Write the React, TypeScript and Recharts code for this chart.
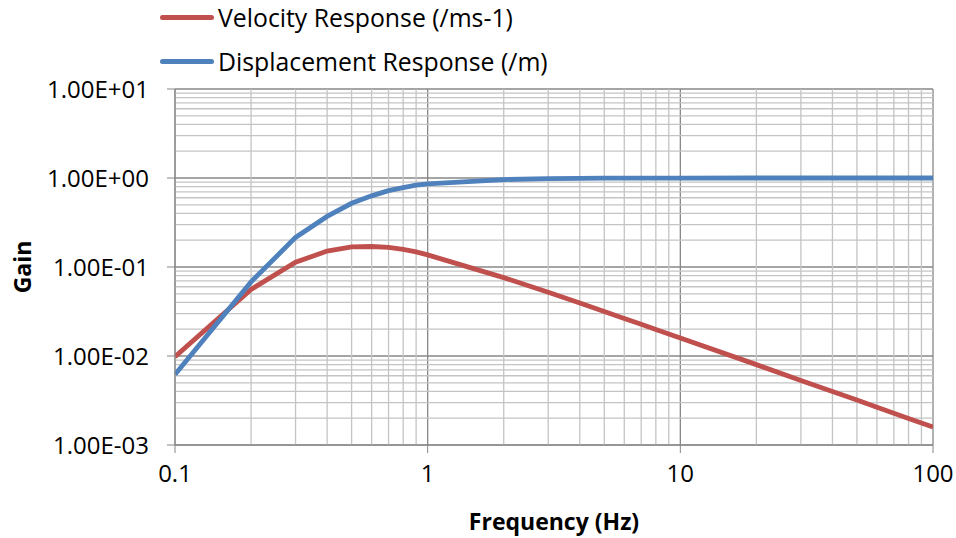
import { CartesianGrid, Label, Line, LineChart, ReferenceLine, XAxis, YAxis } from "recharts";

const FREQUENCIES = [
  0.1, 0.2, 0.3, 0.4, 0.5, 0.6, 0.7, 0.8, 0.9, 1, 2, 3, 4, 5, 6, 7, 8, 9, 10, 20, 30, 40, 50, 60, 70, 80, 90, 100,
];
const VELOCITY_GAIN = [
  0.0098, 0.056, 0.113, 0.151, 0.168, 0.17, 0.166, 0.158, 0.148, 0.137, 0.076, 0.052, 0.0395, 0.0317, 0.0264,
  0.0227, 0.0199, 0.0177, 0.0159, 0.008, 0.0053, 0.004, 0.0032, 0.00265, 0.00227, 0.00199, 0.00177, 0.00159,
];
const DISPLACEMENT_GAIN = [
  0.0062, 0.068, 0.215, 0.37, 0.52, 0.63, 0.72, 0.78, 0.83, 0.86, 0.96, 0.985, 0.992, 0.995, 0.997, 0.998, 0.998,
  0.999, 0.999, 1, 1, 1, 1, 1, 1, 1, 1, 1,
];

const X_TICKS = [0.1, 1, 10, 100];
const Y_TICKS = [0.001, 0.01, 0.1, 1, 10];
const X_MINOR = [0.2, 0.3, 0.4, 0.5, 0.6, 0.7, 0.8, 0.9, 2, 3, 4, 5, 6, 7, 8, 9, 20, 30, 40, 50, 60, 70, 80, 90];
const Y_MINOR = [
  0.002, 0.003, 0.004, 0.005, 0.006, 0.007, 0.008, 0.009, 0.02, 0.03, 0.04, 0.05, 0.06, 0.07, 0.08, 0.09, 0.2, 0.3,
  0.4, 0.5, 0.6, 0.7, 0.8, 0.9, 2, 3, 4, 5, 6, 7, 8, 9,
];

const SERIES = [
  { key: "vel", name: "Velocity Response (/ms-1)", color: "#c0504d" },
  { key: "disp", name: "Displacement Response (/m)", color: "#4f81bd" },
];

const rows = FREQUENCIES.map((f, i) => ({ f, vel: VELOCITY_GAIN[i], disp: DISPLACEMENT_GAIN[i] }));

const FONT = "'Open Sans', sans-serif";
const FS = 24;
const MAJOR = "#878787";
const MINOR = "#c4c4c4";

function sci(v: number): string {
  const exp = Math.round(Math.log10(v));
  const sign = exp < 0 ? "-" : "+";
  return `1.00E${sign}${String(Math.abs(exp)).padStart(2, "0")}`;
}

export default function App() {
  return (
    <div style={{ position: "absolute", left: 0, top: 0, width: 956, height: 538, background: "#fff" }}>
      <div style={{ position: "absolute", left: 160, top: -5, fontFamily: FONT, fontSize: 24.8, color: "#000", zIndex: 2 }}>
        {SERIES.map((s) => (
          <div key={s.key} style={{ display: "flex", alignItems: "center", height: 44, whiteSpace: "nowrap" }}>
            <span style={{ width: 54, height: 5, borderRadius: 3, background: s.color, marginRight: 4 }} />
            {s.name}
          </div>
        ))}
      </div>
      <LineChart width={956} height={538} data={rows} margin={{ top: 89, right: 23, bottom: 0, left: 10 }}>
        <CartesianGrid stroke={MAJOR} strokeWidth={1.3} />
        {X_MINOR.map((x) => (
          <ReferenceLine key={`x${x}`} x={x} stroke={MINOR} strokeWidth={1.3} />
        ))}
        {Y_MINOR.map((y) => (
          <ReferenceLine key={`y${y}`} y={y} stroke={MINOR} strokeWidth={1.3} />
        ))}
        <XAxis
          dataKey="f"
          type="number"
          scale="log"
          domain={[0.1, 100]}
          ticks={X_TICKS}
          allowDataOverflow
          height={93}
          stroke={MAJOR}
          tickSize={8}
          tickMargin={12}
          tick={{ fill: "#000", fontSize: FS, fontFamily: FONT }}
        >
          <Label
            content={({ viewBox }: any) => (
              <text
                x={viewBox.x + viewBox.width / 2}
                y={viewBox.y + 85}
                textAnchor="middle"
                fontFamily={FONT}
                fontSize={FS - 1}
                fontWeight="bold"
                fill="#000"
              >
                Frequency (Hz)
              </text>
            )}
          />
        </XAxis>
        <YAxis
          type="number"
          scale="log"
          domain={[0.001, 10]}
          ticks={Y_TICKS}
          allowDataOverflow
          width={165}
          stroke={MAJOR}
          tickSize={8}
          tickMargin={18}
          tickFormatter={sci}
          tick={{ fill: "#000", fontSize: FS, fontFamily: FONT }}
        >
          <Label
            content={({ viewBox }: any) => {
              const cx = viewBox.x + 12;
              const cy = viewBox.y + viewBox.height / 2;
              return (
                <text
                  x={cx}
                  y={cy}
                  transform={`rotate(-90 ${cx} ${cy})`}
                  textAnchor="middle"
                  dominantBaseline="central"
                  fontFamily={FONT}
                  fontSize={FS - 1}
                  fontWeight="bold"
                  fill="#000"
                >
                  Gain
                </text>
              );
            }}
          />
        </YAxis>
        {SERIES.map((s) => (
          <Line
            key={s.key}
            name={s.name}
            dataKey={s.key}
            stroke={s.color}
            strokeWidth={4.8}
            dot={false}
            isAnimationActive={false}
          />
        ))}
      </LineChart>
    </div>
  );
}
